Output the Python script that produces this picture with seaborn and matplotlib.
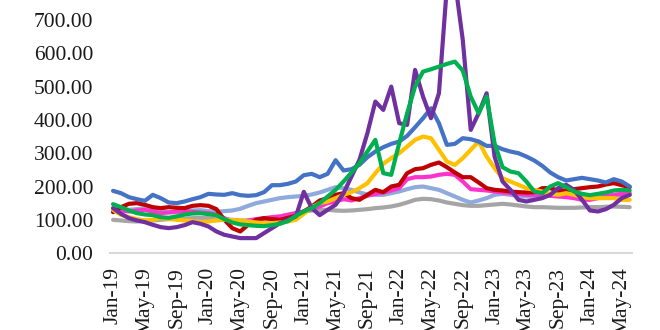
import matplotlib
matplotlib.use("Agg")
import matplotlib.pyplot as plt
import seaborn as sns
import pandas as pd
import numpy as np

months = pd.date_range("2019-01-01", periods=66, freq="MS")
tick_labels = ["Jan-19", "May-19", "Sep-19", "Jan-20", "May-20", "Sep-20", "Jan-21",
               "May-21", "Sep-21", "Jan-22", "May-22", "Sep-22", "Jan-23", "May-23",
               "Sep-23", "Jan-24", "May-24"]

gray = [100, 98, 96, 95, 97, 98, 100, 102, 103, 104,
        105, 106, 105, 104, 102, 100, 98, 98, 100, 103,
        106, 110, 115, 120, 125, 128, 130, 130, 128, 127,
        128, 130, 132, 135, 137, 140, 145, 152, 160, 163,
        162, 158, 152, 148, 144, 142, 142, 144, 146, 148,
        146, 143, 140, 138, 138, 137, 136, 136, 136, 137,
        138, 138, 139, 140, 139, 138]
light_blue = [135, 132, 130, 132, 135, 130, 127, 123, 122, 125,
              128, 129, 126, 124, 126, 128, 133, 142, 150, 155,
              160, 165, 168, 170, 172, 176, 182, 190, 198, 195,
              190, 182, 176, 175, 175, 180, 185, 192, 198, 200,
              195, 190, 180, 170, 160, 152, 158, 165, 175, 178,
              175, 172, 170, 168, 170, 175, 178, 176, 175, 172,
              170, 170, 172, 174, 175, 174]
pink = [130, 128, 125, 128, 130, 125, 120, 122, 125, 125,
        124, 122, 120, 115, 105, 95, 92, 98, 102, 105,
        108, 110, 115, 120, 125, 132, 140, 150, 155, 162,
        158, 165, 172, 178, 182, 188, 195, 222, 228, 228,
        230, 235, 238, 235, 215, 192, 190, 188, 185, 182,
        180, 178, 175, 175, 174, 172, 170, 168, 165, 160,
        160, 165, 170, 175, 178, 180]
red = [123, 138, 148, 150, 145, 138, 135, 138, 136, 135,
       142, 144, 142, 132, 100, 75, 65, 85, 100, 105,
       102, 100, 106, 112, 125, 140, 158, 165, 175, 180,
       165, 160, 175, 190, 183, 200, 205, 240, 252, 255,
       265, 272, 258, 242, 228, 228, 212, 195, 190, 188,
       185, 183, 182, 183, 195, 195, 188, 188, 192, 195,
       198, 200, 206, 210, 204, 198]
yellow = [130, 115, 108, 102, 98, 100, 105, 103, 100, 98,
          96, 93, 95, 98, 100, 99, 98, 95, 92, 90,
          90, 92, 95, 100, 118, 138, 150, 155, 165, 175,
          183, 195, 210, 240, 268, 285, 300, 320, 340, 350,
          345, 310, 275, 265, 285, 310, 335, 290, 255, 225,
          215, 205, 195, 190, 185, 178, 175, 180, 175, 168,
          165, 165, 165, 165, 160, 160]
dark_blue = [187, 180, 168, 162, 157, 175, 165, 152, 150, 155,
             162, 168, 178, 176, 175, 180, 174, 172, 174, 183,
             204, 204, 208, 215, 234, 238, 228, 238, 279, 248,
             252, 265, 288, 305, 318, 328, 335, 352, 378, 405,
             435, 390, 325, 328, 345, 342, 335, 322, 322, 312,
             305, 300, 290, 278, 262, 242, 228, 218, 222, 226,
             222, 218, 212, 222, 215, 200]
purple = [135, 118, 105, 98, 93, 85, 78, 75, 78, 84,
          93, 88, 80, 65, 55, 50, 45, 45, 45, 60,
          75, 90, 100, 110, 184, 135, 114, 130, 145, 180,
          230, 280, 360, 455, 430, 500, 390, 385, 550, 470,
          405, 480, 800, 820, 640, 370, 420, 480, 290, 215,
          190, 160, 155, 160, 165, 175, 195, 205, 190, 160,
          128, 125, 132, 145, 165, 175]
green = [147, 138, 128, 120, 116, 114, 108, 106, 110, 116,
         119, 120, 117, 114, 102, 92, 86, 84, 82, 81,
         84, 88, 96, 112, 125, 135, 150, 170, 190, 215,
         242, 270, 305, 340, 240, 235, 330, 420, 500, 545,
         552, 560, 568, 575, 548, 470, 420, 470, 330, 258,
         245, 240, 215, 185, 180, 200, 210, 198, 185, 178,
         174, 178, 182, 188, 190, 188]

series = {"gray": gray, "light_blue": light_blue, "pink": pink, "red": red,
          "yellow": yellow, "dark_blue": dark_blue, "purple": purple, "green": green}
palette = {"gray": "#A5A5A5", "light_blue": "#8FAADC", "pink": "#FF33CC", "red": "#C00000",
           "yellow": "#FFC000", "dark_blue": "#4472C4", "purple": "#7030A0", "green": "#00B050"}

idx = np.arange(len(months))
rows = []
for name, vals in series.items():
    for i, v in zip(idx, vals):
        rows.append((i, v, name))
df = pd.DataFrame(rows, columns=["i", "value", "series"])

sns.set_theme(style="white")
plt.rcParams["font.family"] = ["Liberation Serif", "DejaVu Serif"]

fig = plt.figure(figsize=(6.6, 3.3), dpi=100)
ax = fig.add_axes([0.1667, 0.233, 0.791, 0.767])
sns.lineplot(data=df, x="i", y="value", hue="series", palette=palette,
             hue_order=list(series.keys()), linewidth=3.0, legend=False, ax=ax)
for ln in ax.get_lines():
    ln.set_solid_joinstyle("round")
    ln.set_solid_capstyle("round")

ax.set_xlim(-0.38, 65.3)
ax.set_ylim(0, 760)
ax.set_yticks(np.arange(0, 701, 100))
ax.set_yticklabels([f"{v:.2f}" for v in np.arange(0, 701, 100)], fontsize=15.5, color="#1a1a1a")
ax.set_xticks(idx[::4])
ax.set_xticklabels(tick_labels, rotation=90, fontsize=15.5, color="#1a1a1a")
ax.tick_params(axis="y", length=0, pad=12)
ax.tick_params(axis="x", length=0, pad=10)
ax.set_xlabel("")
ax.set_ylabel("")
for s in ["top", "right", "left"]:
    ax.spines[s].set_visible(False)
ax.spines["bottom"].set_color("#D9D9D9")
ax.spines["bottom"].set_linewidth(1.5)
ax.grid(False)

fig.savefig("out.png", dpi=100)
